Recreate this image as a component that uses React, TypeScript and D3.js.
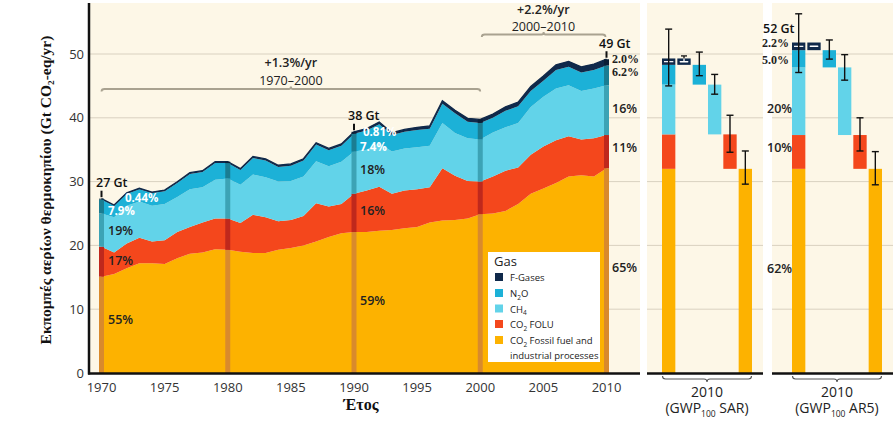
import React from 'react';
import * as d3 from 'd3';

const years = [1970,1971,1972,1973,1974,1975,1976,1977,1978,1979,1980,1981,1982,1983,1984,1985,1986,1987,1988,1989,1990,1991,1992,1993,1994,1995,1996,1997,1998,1999,2000,2001,2002,2003,2004,2005,2006,2007,2008,2009,2010];
const co2FossilFuel = [15.1,15.5,16.4,17.2,17.2,17.1,18.0,18.7,18.9,19.4, 19.3,19.0,18.8,18.8,19.3,19.6,20.0,20.6,21.3,21.9, 22.1,22.1,22.3,22.4,22.7,22.9,23.6,23.9,24.0,24.2, 24.9,25.0,25.4,26.5,28.1,28.9,29.8,30.8,31.0,30.8,32.1];
const co2Folu = [4.7,3.4,3.9,4.0,3.4,3.7,4.1,4.2,4.7,4.8, 4.9,4.5,6.0,5.6,4.5,4.4,4.6,6.0,4.8,4.6, 6.0,6.5,6.9,5.7,5.9,5.9,5.5,8.2,6.9,5.9, 5.1,5.8,6.3,5.7,6.1,6.6,6.7,6.3,5.6,6.0,5.2];
const ch4 = [5.2,5.5,5.9,5.7,5.6,5.7,5.5,5.9,5.5,6.1, 6.3,6.0,6.3,6.3,6.2,6.1,6.2,6.6,6.3,6.6, 6.6,6.4,6.8,6.6,6.6,6.6,6.5,7.1,6.7,6.7, 6.6,6.9,6.8,7.0,7.5,7.8,8.1,8.0,7.6,7.8,7.8];
const n2o = [2.2,1.8,1.9,1.9,2.0,2.0,2.2,2.4,2.4,2.6, 2.4,2.3,2.6,2.6,2.3,2.4,2.5,2.6,2.5,2.5, 2.8,3.0,3.0,2.6,2.6,2.7,2.7,3.0,3.1,2.6, 2.6,2.3,2.6,2.6,2.5,2.5,2.9,2.9,2.9,2.9,3.1];
const fGases = [0.12,0.13,0.14,0.15,0.16,0.17,0.18,0.19,0.2,0.21, 0.22,0.23,0.24,0.25,0.26,0.27,0.28,0.29,0.3,0.3, 0.31,0.32,0.34,0.36,0.38,0.4,0.43,0.46,0.49,0.52, 0.55,0.58,0.62,0.66,0.7,0.75,0.8,0.85,0.89,0.93,0.98];

const highlightYears = [1970, 1980, 1990, 2000, 2010];
const xTicks = [1970, 1975, 1980, 1985, 1990, 1995, 2000, 2005, 2010];
const yTicks = [0, 10, 20, 30, 40, 50];

// 2010 breakdowns (order: F-Gases, N2O, CH4, CO2 FOLU, CO2 FF)
const barKeys = ['fGases', 'n2o', 'ch4', 'folu', 'ff'];
const sarValues = [1.0, 3.1, 7.8, 5.4, 32.0];
const sarErrLow = [48.9, 46.6, 43.7, 34.6, 29.6];
const sarErrHigh = [49.7, 50.3, 46.8, 40.4, 34.8];
const sarTotalErr = [45.0, 53.9];
const ar5Values = [1.2, 2.7, 10.6, 5.3, 32.0];
const ar5ErrLow = [51.0, 49.2, 45.9, 34.8, 29.5];
const ar5ErrHigh = [51.0, 52.2, 49.9, 40.0, 34.7];
const ar5TotalErr = [47.1, 56.3];

const colors: Record<string, string> = {
  ff: '#fdb200',
  folu: '#f4471c',
  ch4: '#62d3e9',
  n2o: '#1cb1d7',
  fGases: '#10294a',
};
const darkColors: Record<string, string> = {
  ff: '#d98a2c',
  folu: '#bf281c',
  ch4: '#3ca3b5',
  n2o: '#1a7d92',
  fGases: '#0b1e36',
};

const SANS = '"Open Sans", "Noto Sans", sans-serif';
const SERIF = '"Liberation Serif", "DejaVu Serif", serif';

export default function App() {
  const x = d3.scaleLinear().domain([1970, 2010]).range([101.5, 606.5]);
  const y = d3.scaleLinear().domain([0, 50]).range([373, 54]);

  const rows = years.map((yr, i) => ({
    year: yr,
    ff: co2FossilFuel[i],
    folu: co2Folu[i],
    ch4: ch4[i],
    n2o: n2o[i],
    fGases: fGases[i],
  }));
  const stackKeys = ['ff', 'folu', 'ch4', 'n2o', 'fGases'];
  const series = d3.stack<any>().keys(stackKeys)(rows);
  const area = d3
    .area<any>()
    .x((d) => x(d.data.year))
    .y0((d) => y(d[0]))
    .y1((d) => y(d[1]));
  const topLine = d3
    .line<any>()
    .x((d) => x(d.data.year))
    .y((d) => y(d[1]));

  const panels = [
    { x0: 647, x1: 763, bandRange: [662, 752], values: sarValues, lo: sarErrLow, hi: sarErrHigh, totErr: sarTotalErr, label: 'SAR' },
    { x0: 772, x1: 893, bandRange: [792, 882], values: ar5Values, lo: ar5ErrLow, hi: ar5ErrHigh, totErr: ar5TotalErr, label: 'AR5' },
  ];

  const gridColor = '#d9d1c0';
  const cream = '#fdf7e7';

  const renderPanel = (p: any, pi: number) => {
    const band = d3
      .scaleBand<string>()
      .domain(['total', ...barKeys])
      .range(p.bandRange)
      .paddingInner(0.13);
    const bw = band.bandwidth();
    const order = ['ff', 'folu', 'ch4', 'n2o', 'fGases'];
    const vals: Record<string, number> = {};
    barKeys.forEach((k, i) => (vals[k] = p.values[i]));
    const bottoms: Record<string, number> = {};
    let acc = 0;
    order.forEach((k) => {
      bottoms[k] = acc;
      acc += vals[k];
    });
    const tx = band('total')!;
    const elems: any[] = [];
    order.forEach((k) => {
      elems.push(
        <rect key={`t${k}`} x={tx} width={bw} y={y(bottoms[k] + vals[k])} height={y(bottoms[k]) - y(bottoms[k] + vals[k])} fill={colors[k]} />
      );
    });
    const fMid = bottoms.fGases + vals.fGases / 2;
    elems.push(<line key="twl" x1={tx + 2} x2={tx + bw - 2} y1={y(fMid)} y2={y(fMid)} stroke="#fff" strokeWidth={1.2} />);
    barKeys.forEach((k) => {
      const bx = band(k)!;
      elems.push(
        <rect key={`b${k}`} x={bx} width={bw} y={y(bottoms[k] + vals[k])} height={y(bottoms[k]) - y(bottoms[k] + vals[k])} fill={colors[k]} />
      );
    });
    const fx = band('fGases')!;
    elems.push(<line key="fwl" x1={fx + 3} x2={fx + bw - 3} y1={y(fMid)} y2={y(fMid)} stroke="#fff" strokeWidth={1.5} strokeLinecap="round" />);
    const errBar = (key: string, cx: number, lo: number, hi: number, color = '#111') => (
      <g key={key} stroke={color} strokeWidth={1.4}>
        <line x1={cx} x2={cx} y1={y(lo)} y2={y(hi)} />
        <line x1={cx - 3.5} x2={cx + 3.5} y1={y(lo)} y2={y(lo)} />
        <line x1={cx - 3.5} x2={cx + 3.5} y1={y(hi)} y2={y(hi)} />
      </g>
    );
    elems.push(errBar('etot', tx + bw / 2, p.totErr[0], p.totErr[1]));
    barKeys.forEach((k, i) => {
      if (k === 'fGases') {
        if (p.hi[i] > bottoms.fGases + vals.fGases) {
          const cx = fx + bw / 2;
          elems.push(
            <g key="efg" strokeWidth={1.3}>
              <line x1={cx - 3} x2={cx + 3} y1={y(p.hi[i])} y2={y(p.hi[i])} stroke="#111" />
              <line x1={cx} x2={cx} y1={y(p.hi[i])} y2={y(bottoms.fGases + vals.fGases)} stroke="#111" />
              <line x1={cx} x2={cx} y1={y(bottoms.fGases + vals.fGases)} y2={y(fMid)} stroke="#fff" />
            </g>
          );
        }
        return;
      }
      const bx = band(k)!;
      elems.push(errBar(`e${k}`, bx + bw / 2, p.lo[i], p.hi[i]));
    });
    const bx0 = p.bandRange[0] + 0.5;
    const bx1 = p.bandRange[1] - 0.5;
    const bcx = (bx0 + bx1) / 2;
    return (
      <g key={`panel${pi}`}>
        <rect x={p.x0} y={3} width={p.x1 - p.x0} height={370} fill={cream} />
        {yTicks.filter((t) => t > 0).map((t) => (
          <line key={t} x1={p.x0} x2={p.x1} y1={y(t)} y2={y(t)} stroke={gridColor} strokeWidth={1} />
        ))}
        {elems}
        <line x1={p.x0} x2={p.x1} y1={373.5} y2={373.5} stroke="#111" strokeWidth={2.5} />
        <path
          d={`M${bx0},376 Q${bx0},379 ${bx0 + 3},379 L${bcx - 3},379 Q${bcx},379 ${bcx},382 Q${bcx},379 ${bcx + 3},379 L${bx1 - 3},379 Q${bx1},379 ${bx1},376`}
          fill="none"
          stroke="#555"
          strokeWidth={1.1}
        />
        <text x={bcx} y={397} textAnchor="middle" fontFamily={SANS} fontSize={14} fill="#222">2010</text>
        <text x={bcx} y={413} textAnchor="middle" fontFamily={SANS} fontSize={14} fill="#222">
          (GWP<tspan fontSize={8.5} dy={4}>100</tspan>
          <tspan dy={-4}>{' ' + p.label + ')'}</tspan>
        </text>
      </g>
    );
  };

  const pct = (text: string, px: number, val: number, fill = '#222', font = SANS, weight: any = 600, size = 12.5) => (
    <text key={text + px + val} x={px} y={y(val)} dy="0.35em" fontFamily={font} fontWeight={weight} fontSize={size} fill={fill}>
      {text}
    </text>
  );

  const bracket = (xa: number, xb: number, yy: number, key: string) => {
    const c = (xa + xb) / 2;
    return (
      <path
        key={key}
        d={`M${xa},${yy + 2.5} Q${xa},${yy} ${xa + 3},${yy} L${c - 2},${yy} Q${c},${yy} ${c},${yy - 2.5} Q${c},${yy} ${c + 2},${yy} L${xb - 3},${yy} Q${xb},${yy} ${xb},${yy + 2.5}`}
        fill="none"
        stroke="#a9a290"
        strokeWidth={1.8}
      />
    );
  };

  const legendItems = [
    { key: 'fGases', y: 277 },
    { key: 'n2o', y: 293 },
    { key: 'ch4', y: 308.5 },
    { key: 'folu', y: 324 },
    { key: 'ff', y: 340 },
  ];

  return (
    <svg width={893} height={424} style={{ position: 'absolute', left: 0, top: 0, background: '#fff' }}>
      <rect x={89} y={3} width={551} height={370} fill={cream} />
      {yTicks.filter((t) => t > 0).map((t) => (
        <line key={t} x1={89} x2={640} y1={y(t)} y2={y(t)} stroke={gridColor} strokeWidth={1} />
      ))}
      {series.map((s: any) => (
        <path key={s.key} d={area(s) || ''} fill={colors[s.key]} />
      ))}
      <path d={topLine(series[series.length - 1] as any) || ''} fill="none" stroke={colors.fGases} strokeWidth={1.3} />
      {highlightYears.map((yr) => {
        const i = years.indexOf(yr);
        return (
          <g key={yr}>
            {series.map((s: any) => (
              <rect key={s.key} x={x(yr) - 2.5} width={5} y={y(s[i][1])} height={y(s[i][0]) - y(s[i][1])} fill={darkColors[s.key]} />
            ))}
          </g>
        );
      })}
      {[1970, 1990, 2010].map((yr) => {
        const i = years.indexOf(yr);
        const top = series[series.length - 1][i][1];
        return <line key={yr} x1={x(yr)} x2={x(yr)} y1={y(top) - 8} y2={y(top) - 1.5} stroke="#111" strokeWidth={2} />;
      })}
      <line x1={89} x2={89} y1={3} y2={374.5} stroke="#111" strokeWidth={2.5} />
      <line x1={88} x2={640} y1={373.5} y2={373.5} stroke="#111" strokeWidth={2.5} />
      {yTicks.map((t) => (
        <text key={t} x={84} y={y(t)} dy="0.35em" textAnchor="end" fontFamily={SANS} fontSize={13} fill="#333">
          {t}
        </text>
      ))}
      {xTicks.map((t) => (
        <text key={t} x={x(t)} y={392} textAnchor="middle" fontFamily={SANS} fontSize={13} fill="#333">
          {t}
        </text>
      ))}
      <text transform="translate(51,190) rotate(-90)" textAnchor="middle" fontFamily={SERIF} fontWeight="bold" fontSize={15.5} fill="#111">
        Εκπομπές αερίων θερμοκηπίου (Gt CO₂-eq/yr)
      </text>
      <text x={361} y={410} textAnchor="middle" fontFamily={SERIF} fontWeight="bold" fontSize={16} fill="#111">
        Έτος
      </text>
      {bracket(x(1970), x(2000), 89, 'b1')}
      {bracket(x(2000) + 1.5, x(2010) - 1, 34.5, 'b2')}
      <text x={(x(1970) + x(2000)) / 2} y={67} textAnchor="middle" fontFamily={SANS} fontWeight={600} fontSize={12.5} fill="#222">+1.3%/yr</text>
      <text x={(x(1970) + x(2000)) / 2} y={84.5} textAnchor="middle" fontFamily={SANS} fontSize={12.5} fill="#222">1970–2000</text>
      <text x={(x(2000) + x(2010)) / 2} y={14} textAnchor="middle" fontFamily={SANS} fontWeight={600} fontSize={12.5} fill="#222">+2.2%/yr</text>
      <text x={(x(2000) + x(2010)) / 2} y={30.5} textAnchor="middle" fontFamily={SANS} fontSize={12.5} fill="#222">2000–2010</text>
      {pct('27 Gt', 96, 29.8, '#111')}
      {pct('38 Gt', 348, 40.3, '#111')}
      {pct('49 Gt', 599, 51.6, '#111')}
      {pct('0.44%', 125, 27.4, '#fff', SANS, 700, 11.5)}
      {pct('7.9%', 108, 25.4, '#fff', SANS, 700, 11.5)}
      {pct('19%', 108, 22.3)}
      {pct('17%', 108, 17.6)}
      {pct('55%', 108, 8.3)}
      {pct('0.81%', 363, 37.7, '#fff', SANS, 700, 11.5)}
      {pct('7.4%', 360, 35.4, '#fff', SANS, 700, 11.5)}
      {pct('18%', 360, 31.8)}
      {pct('16%', 360, 25.5)}
      {pct('59%', 360, 11.4)}
      {pct('2.0%', 612, 49.2, '#222', SERIF, 700, 12)}
      {pct('6.2%', 612, 47.2, '#222', SERIF, 700, 12)}
      {pct('16%', 612, 41.5)}
      {pct('11%', 612, 35.3)}
      {pct('65%', 612, 16.5)}
      <rect x={488} y={252} width={112} height={110} fill="#fff" />
      <text x={494} y={266} fontFamily={SANS} fontSize={13} fill="#222">Gas</text>
      {legendItems.map((it) => (
        <rect key={it.key} x={495} y={it.y - 4} width={8} height={8} fill={colors[it.key]} />
      ))}
      <g fontFamily={SANS} fontSize={9.5} fill="#222">
        <text x={510} y={281}>F-Gases</text>
        <text x={510} y={297}>N<tspan fontSize={6.5} dy={2.5}>2</tspan><tspan dy={-2.5}>O</tspan></text>
        <text x={510} y={312.5}>CH<tspan fontSize={6.5} dy={2.5}>4</tspan></text>
        <text x={510} y={328}>CO<tspan fontSize={6.5} dy={2.5}>2</tspan><tspan dy={-2.5}> FOLU</tspan></text>
        <text x={510} y={344}>CO<tspan fontSize={6.5} dy={2.5}>2</tspan><tspan dy={-2.5}> Fossil fuel and</tspan></text>
        <text x={510} y={359}>industrial processes</text>
      </g>
      {panels.map(renderPanel)}
      {pct('52 Gt', 763, 53.9, '#111')}
      {pct('2.2%', 762, 51.7, '#222', SERIF, 700, 12)}
      {pct('5.0%', 762, 49.1, '#222', SERIF, 700, 12)}
      {pct('20%', 767, 41.5)}
      {pct('10%', 767, 35.3)}
      {pct('62%', 767, 16.3)}
    </svg>
  );
}
